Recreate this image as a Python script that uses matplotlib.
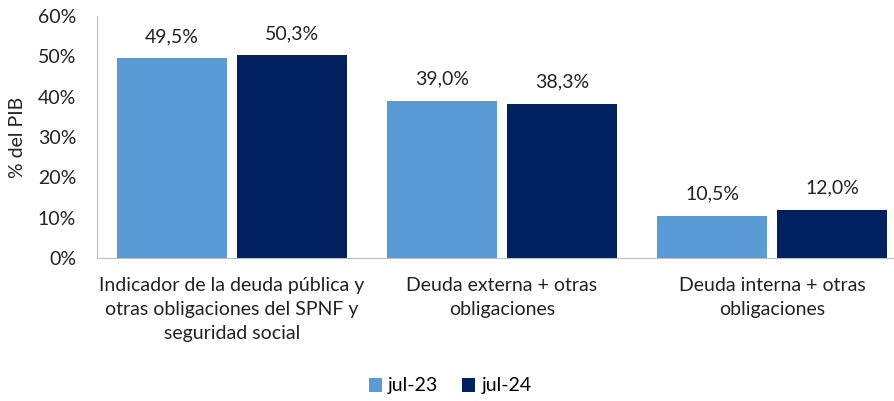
import numpy as np
import matplotlib
matplotlib.use("Agg")
import matplotlib.pyplot as plt
from matplotlib.ticker import PercentFormatter

categories = ["Indicador de la deuda pública y\notras obligaciones del SPNF y\nseguridad social",
              "Deuda externa + otras\nobligaciones",
              "Deuda interna + otras\nobligaciones"]
series_names = ["jul-23", "jul-24"]
jul23 = [49.5, 39.0, 10.5]
jul24 = [50.3, 38.3, 12.0]
colors = ["#5B9BD5", "#002060"]

plt.rcParams['font.family'] = ['Lato', 'DejaVu Sans']
fs = 14

fig = plt.figure(figsize=(8.94, 4.01), dpi=100)
ax = fig.add_axes([97/894, (401-258)/401, 796.5/894, 242/401])

x = np.arange(len(categories))
w = 110/270
off = 60/270
for vals, name, c, sgn in [(jul23, series_names[0], colors[0], -1), (jul24, series_names[1], colors[1], 1)]:
    bars = ax.bar(x + sgn*off, vals, width=w, color=c, label=name)
    for b, v in zip(bars, vals):
        ax.text(b.get_x() + b.get_width()/2, v + 3.2, f"{v:.1f}%".replace(".", ","),
                ha="center", va="bottom", fontsize=fs, color="#222222")

ax.set_xlim(-0.5, 2.45)
ax.set_ylim(0, 60)
ax.set_yticks(np.arange(0, 61, 10))
ax.yaxis.set_major_formatter(PercentFormatter(decimals=0))
ax.set_xticks(x)
ax.set_xticklabels(categories, fontsize=fs, linespacing=1.5, color="#222222")
ax.tick_params(axis="y", labelsize=fs, length=0, pad=15, labelcolor="#222222")
ax.tick_params(axis="x", length=0, pad=14)
ax.set_ylabel("% del PIB", fontsize=fs, color="#222222")
ax.yaxis.set_label_coords((26 - 97) / 796.5, 0.5)

for s in ["top", "right"]:
    ax.spines[s].set_visible(False)
ax.spines["left"].set_color("#BFBFBF")
ax.spines["bottom"].set_color("#BFBFBF")

fig.legend(loc="center", bbox_to_anchor=(450/894, 1 - 386/401), ncol=2, frameon=False,
           fontsize=fs, handlelength=0.7, handleheight=0.7, handletextpad=0.3, columnspacing=1.2)

fig.savefig("out.png", dpi=100)
